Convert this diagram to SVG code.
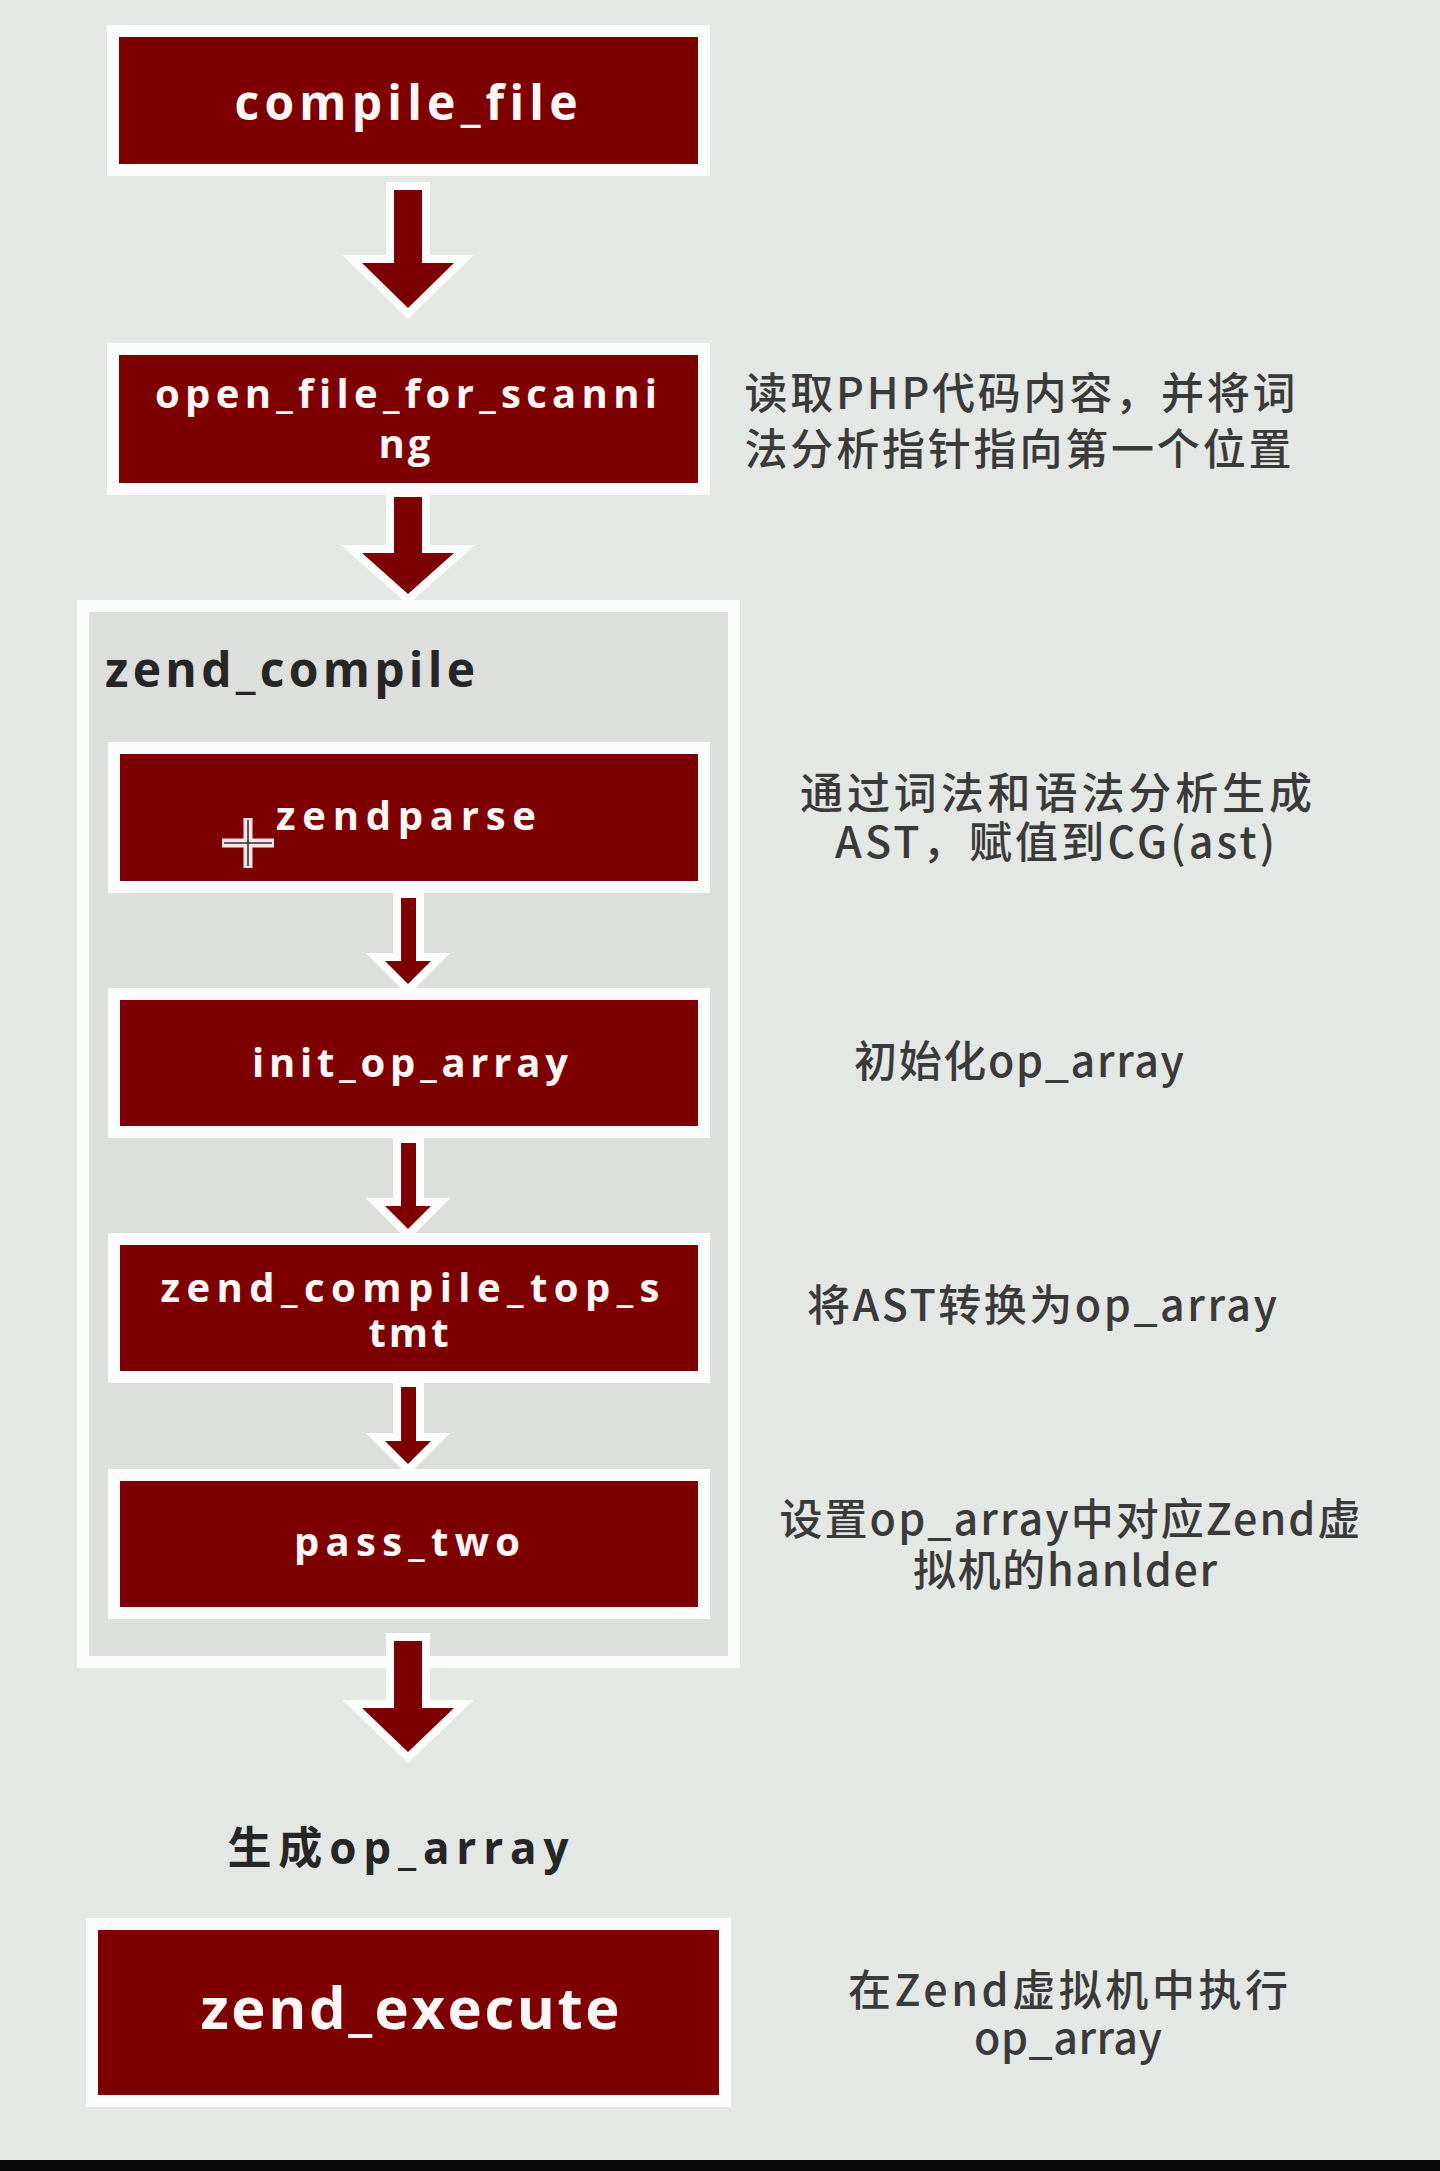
<svg xmlns="http://www.w3.org/2000/svg" width="1440" height="2171" viewBox="0 0 1440 2171">
<style>
.bg{fill:#e4e8e5}
.frame{fill:#fbfcfb}
.red{fill:#7d0103}
.cont{fill:#dddfdc}
.lbl{font-family:"Open Sans",Lato,"Liberation Sans",sans-serif;font-weight:700;fill:#fff6f6;text-anchor:middle;font-variant-ligatures:none}
.title{font-family:"Open Sans","Noto Sans CJK SC","Liberation Sans",sans-serif;font-weight:700;fill:#262626;font-variant-ligatures:none}
.note{font-family:"Noto Sans CJK SC","Noto Sans",sans-serif;font-size:43px;font-weight:500;fill:#3a3a3a;text-anchor:middle}
.arw{fill:#7d0103;stroke:#fbfcfb;stroke-width:16;stroke-linejoin:miter;paint-order:stroke}
</style>
<rect class="bg" x="0" y="0" width="1440" height="2171"/>

<g id="zend_compile">
  <rect class="frame" x="77" y="600" width="663" height="1068"/>
  <rect class="cont" x="89" y="612" width="639" height="1044"/>
  <text class="title" x="105" y="687" font-size="48" textLength="370">zend_compile</text>
</g>

<g id="compile_file">
  <rect class="frame" x="107" y="25" width="603" height="151"/>
  <rect class="red" x="119" y="37" width="579" height="127"/>
  <text class="lbl" x="406" y="120" font-size="48" textLength="343">compile_file</text>
</g>

<g id="open_file_for_scanning">
  <rect class="frame" x="107" y="343" width="603" height="152"/>
  <rect class="red" x="119" y="355" width="579" height="128"/>
  <text class="lbl" x="406" y="408" font-size="40" textLength="502">open_file_for_scanni</text>
  <text class="lbl" x="406" y="458" font-size="40" letter-spacing="3">ng</text>
</g>

<g id="zendparse">
  <rect class="frame" x="108" y="742" width="602" height="151"/>
  <rect class="red" x="120" y="754" width="578" height="127"/>
  <text class="lbl" x="406" y="830" font-size="40" textLength="260">zendparse</text>
</g>

<g id="init_op_array">
  <rect class="frame" x="108" y="988" width="602" height="150"/>
  <rect class="red" x="120" y="1000" width="578" height="126"/>
  <text class="lbl" x="410" y="1077" font-size="40" textLength="316">init_op_array</text>
</g>

<g id="zend_compile_top_stmt">
  <rect class="frame" x="108" y="1233" width="602" height="150"/>
  <rect class="red" x="120" y="1245" width="578" height="126"/>
  <text class="lbl" x="410" y="1302" font-size="40" textLength="499">zend_compile_top_s</text>
  <text class="lbl" x="410" y="1347" font-size="40" letter-spacing="3">tmt</text>
</g>

<g id="pass_two">
  <rect class="frame" x="108" y="1469" width="602" height="150"/>
  <rect class="red" x="120" y="1481" width="578" height="126"/>
  <text class="lbl" x="407" y="1556" font-size="40" textLength="226">pass_two</text>
</g>

<g id="op_array_result">
  <text class="title" x="398" y="1864" font-size="44" text-anchor="middle" textLength="341">生成op_array</text>
</g>

<g id="zend_execute">
  <rect class="frame" x="86" y="1918" width="645" height="189"/>
  <rect class="red" x="98" y="1930" width="621" height="165"/>
  <text class="lbl" x="410" y="2029" font-size="58" textLength="419">zend_execute</text>
</g>

<g id="connectors">
  <polygon class="arw" points="394,190 422,190 422,263 454,263 408,308 362,263 394,263"/>
  <polygon class="arw" points="394,497 422,497 422,553 454,553 408,594 362,553 394,553"/>
  <polygon class="arw" points="401,898 416,898 416,961 431,961 408,984 385,961 401,961"/>
  <polygon class="arw" points="401,1143 416,1143 416,1206 431,1206 408,1229 385,1206 401,1206"/>
  <polygon class="arw" points="401,1387 416,1387 416,1441 431,1441 408,1464 385,1441 401,1441"/>
  <polygon class="arw" points="394,1641 422,1641 422,1708 454,1708 408,1752 362,1708 394,1708"/>
</g>

<g id="notes">
  <text class="note" x="1020" y="409" textLength="551">读取PHP代码内容，并将词</text>
  <text class="note" x="1018" y="465" textLength="547">法分析指针指向第一个位置</text>
  <text class="note" x="1056" y="809" textLength="512">通过词法和语法分析生成</text>
  <text class="note" x="1055" y="858" textLength="440">AST，赋值到CG(ast)</text>
  <text class="note" x="1019" y="1077" textLength="330">初始化op_array</text>
  <text class="note" x="1042" y="1321" textLength="470">将AST转换为op_array</text>
  <text class="note" x="1070" y="1535" textLength="581">设置op_array中对应Zend虚</text>
  <text class="note" x="1065" y="1586" textLength="304">拟机的hanlder</text>
  <text class="note" x="1068" y="2006" textLength="440">在Zend虚拟机中执行</text>
  <text class="note" x="1068" y="2054" textLength="188">op_array</text>
</g>

<g id="cursor">
  <path d="M222,843 H274 M248,818 V868" stroke="#f6e6e6" stroke-width="9" fill="none"/>
  <path d="M224,843 H272 M248,820 V866" stroke="#2a2a2a" stroke-width="1.5" fill="none"/>
</g>

<rect x="0" y="2160" width="1440" height="11" fill="#0a0a0a"/>
</svg>
